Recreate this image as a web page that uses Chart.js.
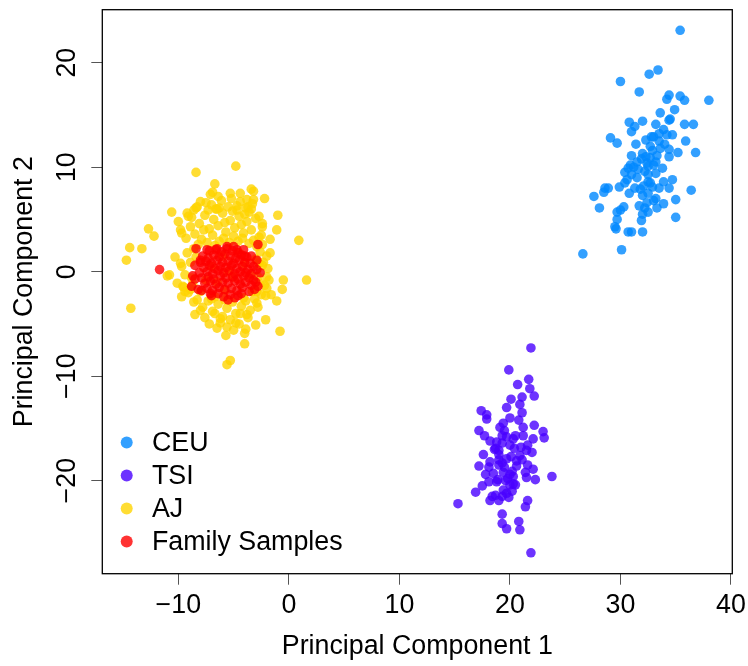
<!DOCTYPE html>
<html>
<head>
<meta charset="utf-8">
<script src="https://cdn.jsdelivr.net/npm/chart.js@4/dist/chart.umd.min.js"></script>
<style>
  html, body { margin: 0; padding: 0; background: #ffffff; }
  #wrap { width: 748px; height: 666px; }
</style>
</head>
<body>
<div id="wrap"><canvas id="pca" width="748" height="666"></canvas></div>
<script>
// PCA scatter: CEU / TSI / AJ reference panels plus family samples

const groupLabels = ['CEU', 'TSI', 'AJ', 'Family Samples'];
const xTicks = [-10, 0, 10, 20, 30, 40];
const yTicks = [-20, -10, 0, 10, 20];

const ceuPoints = [
    [35.4, 23.1], [33.4, 19.3], [32.6, 18.9], [30.0, 18.2], [31.7, 17.2], [38.0, 16.4],
    [34.4, 16.9], [34.2, 16.5], [35.4, 16.8], [35.8, 16.4], [34.9, 15.5], [33.6, 15.2],
    [34.5, 14.6], [34.4, 14.5], [30.8, 14.3], [31.3, 13.9], [32.0, 14.4], [33.2, 14.1],
    [35.8, 14.1], [36.6, 14.1], [31.0, 13.4], [33.9, 13.6], [34.2, 13.1], [33.5, 13.2],
    [34.7, 13.1], [32.8, 12.9], [33.0, 12.9], [29.1, 12.8], [29.7, 12.3], [33.5, 12.5],
    [35.9, 12.5], [32.7, 12.0], [34.4, 11.7], [35.2, 11.4], [36.8, 11.4], [34.4, 11.0],
    [31.0, 11.1], [32.0, 11.3], [32.3, 11.0], [32.7, 10.9], [33.3, 11.1], [31.5, 10.5],
    [30.9, 10.2], [32.4, 10.4], [33.2, 10.5], [32.5, 10.1], [33.8, 9.9], [33.2, 9.4],
    [30.4, 9.5], [31.0, 9.3], [32.5, 9.3], [30.7, 9.9], [32.5, 8.6], [32.7, 8.5],
    [33.9, 8.6], [34.7, 8.8], [34.4, 8.0], [29.9, 8.1], [30.4, 8.5], [28.6, 8.0],
    [28.9, 8.0], [28.5, 7.6], [31.3, 8.0], [30.8, 7.5], [32.1, 8.2], [32.9, 8.1],
    [32.5, 7.5], [32.0, 7.3], [33.5, 8.0], [27.6, 7.2], [36.4, 7.8], [35.0, 6.9],
    [33.2, 7.0], [32.4, 6.6], [31.7, 6.3], [33.9, 6.5], [28.1, 6.1], [30.3, 6.2],
    [30.0, 5.9], [29.7, 5.7], [32.5, 5.7], [32.0, 5.5], [32.2, 6.1], [33.3, 6.1],
    [29.7, 5.0], [29.5, 4.3], [29.6, 4.1], [31.9, 4.9], [35.0, 5.2], [30.7, 3.8],
    [31.0, 3.8], [32.0, 3.8], [30.1, 2.1], [26.6, 1.7], [31.6, 9.8], [32.9, 11.6],
    [31.4, 12.2], [33.0, 10.2], [31.9, 10.8], [32.2, 9.6], [31.2, 10.0], [33.6, 11.8],
    [30.6, 8.8], [31.8, 7.9], [33.0, 6.8], [34.0, 12.2], [32.3, 12.6], [31.5, 9.0]
];

const tsiPoints = [
    [21.9, -7.3], [19.9, -9.4], [21.7, -10.3], [20.7, -10.8], [21.8, -11.2], [22.2, -11.9],
    [21.1, -12.0], [20.9, -12.7], [20.1, -12.2], [19.7, -13.0], [17.4, -13.3], [17.9, -13.7],
    [17.9, -14.1], [21.1, -13.5], [20.8, -14.2], [19.4, -14.5], [19.1, -14.9], [21.2, -14.9],
    [22.2, -14.7], [17.2, -15.2], [17.7, -15.7], [23.0, -15.3], [23.1, -15.9], [19.3, -15.7],
    [19.7, -15.8], [20.5, -15.7], [21.2, -15.7], [22.1, -16.0], [18.8, -16.3], [19.3, -16.4],
    [20.0, -16.6], [21.6, -16.6], [18.7, -16.9], [20.4, -16.9], [19.0, -17.1], [21.5, -17.1],
    [22.0, -17.3], [17.6, -17.5], [20.1, -17.7], [20.9, -17.6], [19.7, -17.9], [19.0, -18.0],
    [18.2, -18.2], [20.6, -18.1], [21.1, -18.0], [17.2, -18.6], [18.1, -18.7], [19.0, -18.5],
    [19.5, -18.7], [21.6, -18.5], [22.1, -18.9], [17.8, -19.4], [18.5, -19.3], [19.4, -19.2],
    [20.0, -19.4], [20.2, -19.1], [23.8, -19.6], [22.3, -19.9], [21.5, -19.7], [18.1, -20.1],
    [18.8, -20.1], [19.6, -20.0], [20.3, -19.6], [20.3, -20.3], [17.5, -20.5], [20.0, -20.4],
    [20.5, -20.4], [16.9, -21.1], [19.4, -20.9], [19.7, -21.2], [18.7, -21.4], [18.4, -21.5],
    [19.3, -21.5], [19.9, -21.6], [18.2, -21.9], [19.0, -21.9], [21.6, -21.9], [21.4, -22.5],
    [15.3, -22.2], [19.3, -23.2], [20.8, -23.9], [19.3, -24.1], [19.7, -24.6], [20.9, -24.7],
    [21.9, -26.9], [19.5, -15.2], [20.3, -16.0], [19.0, -17.5], [20.6, -18.6], [19.8, -19.8],
    [18.6, -17.0], [21.0, -16.8], [20.2, -21.0], [18.9, -19.9], [21.4, -19.2], [19.3, -18.3],
    [20.0, -14.0], [18.2, -16.2]
];

const ajPoints = [
    [-4.8, 10.1], [-8.4, 9.5], [-6.7, 8.4], [-3.4, 7.9], [-3.2, 7.7], [-7.1, 7.4],
    [-6.9, 7.6], [-6.4, 7.2], [-5.3, 7.5], [-4.4, 7.5], [-2.2, 7.0], [-8.0, 6.7],
    [-7.5, 6.6], [-8.3, 6.2], [-8.6, 5.9], [-6.5, 6.0], [-6.3, 6.1], [-4.4, 6.7],
    [-3.8, 6.9], [-3.2, 6.9], [-4.7, 5.9], [-3.7, 6.2], [-3.4, 6.0], [-10.6, 5.7],
    [-1.0, 5.4], [-2.7, 5.3], [-9.2, 5.6], [-9.1, 5.3], [-10.0, 4.8], [-12.7, 4.1],
    [-12.2, 3.4], [-1.1, 4.0], [-9.7, 3.7], [-9.8, 4.0], [-2.4, 4.3], [-2.5, 3.5],
    [-1.7, 3.1], [0.9, 3.0], [-14.4, 2.3], [-13.3, 2.2], [-14.7, 1.1], [-1.7, 1.8],
    [-10.3, 1.4], [-9.8, 0.8], [-10.8, -0.3], [-2.0, -0.5], [-0.5, -0.8], [1.6, -0.8],
    [-0.6, -1.7], [-1.6, -2.2], [-1.1, -2.8], [-14.3, -3.5], [-9.7, -2.4], [-9.4, -1.9],
    [-8.6, -2.9], [-8.5, -4.1], [-8.0, -3.7], [-2.9, -3.0], [-2.1, -4.6], [-3.0, -5.1],
    [-3.9, -5.5], [-5.6, -5.3], [-4.8, -4.9], [-0.8, -5.7], [-4.0, -6.9], [-5.3, -8.5],
    [-5.6, -8.9], [-6.7, -4.0], [-6.2, -4.5], [-4.4, -4.0], [-3.8, -4.1], [-11.0, -0.4],
    [-10.1, -1.1], [-9.5, -1.5], [-8.9, -1.7], [-2.0, -1.6], [-2.1, -2.3], [-2.9, -1.9],
    [-2.6, -1.1], [-2.7, 0.8], [-2.4, 0.6],
    [-8.8, 5.2], [-8.1, 4.6], [-7.6, 5.4], [-7.2, 4.1], [-6.8, 5.0], [-6.4, 4.4],
    [-6.0, 5.6], [-5.7, 3.8], [-5.3, 4.9], [-4.9, 4.2], [-4.5, 5.3], [-4.1, 3.7],
    [-3.8, 4.8], [-3.4, 4.0], [-3.0, 5.1], [-2.7, 3.3], [-8.5, 3.6], [-7.9, 3.1],
    [-7.4, 2.8], [-6.9, 3.5], [-6.3, 2.9], [-5.9, 3.2], [-5.4, 2.8], [-5.0, 3.4],
    [-4.6, 2.9], [-4.2, 3.2], [-3.6, 2.7], [-3.2, 3.0], [-8.2, 2.6], [-7.7, 4.0],
    [-6.6, 6.0], [-5.8, 4.7], [-5.1, 5.8], [-4.3, 4.5], [-3.6, 5.7], [-7.0, 6.4],
    [-6.1, 6.8], [-4.7, 6.3], [-3.9, 6.1], [-8.9, 4.3], [-9.3, 3.2], [-2.4, 4.6],
    [-2.9, 2.4], [-6.7, 2.5], [-5.5, 6.2], [-7.3, 5.9], [-4.0, 5.5], [-3.3, 6.5],
    [-8.4, 6.1], [-5.2, 7.0],
    [-9.2, 1.8], [-8.9, 0.9], [-9.4, -0.3], [-8.7, -1.2], [-9.1, -2.0], [-8.6, 2.2],
    [-9.7, 0.5], [-8.4, 1.4], [-8.8, -0.6], [-9.6, -1.4], [-2.6, 1.9], [-2.3, 0.9],
    [-2.8, -0.5], [-2.2, -1.3], [-2.5, -2.2], [-1.9, 0.3], [-3.0, 1.2], [-2.4, 2.6],
    [-1.8, -0.8], [-2.0, 1.5],
    [-8.3, -2.7], [-7.8, -3.4], [-7.3, -2.8], [-6.9, -3.8], [-6.4, -3.1], [-6.0, -4.3],
    [-5.6, -3.5], [-5.1, -2.9], [-4.8, -4.0], [-4.3, -3.3], [-3.9, -2.8], [-3.5, -3.7],
    [-3.1, -2.6], [-2.8, -3.4], [-7.6, -4.4], [-7.0, -2.6], [-6.2, -4.9], [-5.3, -4.6],
    [-4.5, -5.0], [-3.7, -4.4], [-8.0, -1.9], [-6.7, -2.4], [-5.8, -2.7], [-4.1, -2.5],
    [-3.3, -1.9], [-6.5, -5.4], [-5.0, -5.6], [-7.2, -5.0], [-4.0, -5.9], [-5.7, -6.1],
    [-7.0, 0.5], [-6.0, 1.5], [-5.0, -0.5], [-4.0, 0.8], [-6.5, -1.0], [-5.5, 0.0],
    [-4.5, 1.8], [-7.5, -0.8], [-3.5, -0.3], [-5.8, -1.8]
];

const familyPoints = [
    [-7.2, 2.0], [-6.6, 2.1], [-6.1, 1.9], [-5.6, 2.2], [-5.1, 2.0], [-4.6, 1.8], [-4.1, 2.1],
    [-7.8, 1.5], [-7.3, 1.3], [-6.8, 1.6], [-6.3, 1.4], [-5.8, 1.7], [-5.3, 1.5], [-4.8, 1.3],
    [-4.3, 1.6], [-3.8, 1.4], [-3.4, 1.5],
    [-8.0, 0.9], [-7.5, 1.0], [-7.0, 0.8], [-6.5, 1.1], [-6.0, 0.9], [-5.5, 1.0], [-5.0, 0.8],
    [-4.5, 1.1], [-4.0, 0.9], [-3.5, 0.8],
    [-7.7, 0.4], [-7.2, 0.6], [-6.7, 0.3], [-6.2, 0.5], [-5.7, 0.4], [-5.2, 0.6], [-4.7, 0.3],
    [-4.2, 0.5], [-3.7, 0.2], [-3.2, 0.5],
    [-8.1, -0.1], [-7.4, 0.0], [-6.9, -0.2], [-6.4, 0.1], [-5.9, -0.1], [-5.4, 0.1], [-4.9, -0.2],
    [-4.4, 0.0], [-3.9, -0.1], [-3.4, -0.2],
    [-7.9, -0.6], [-7.3, -0.5], [-6.8, -0.7], [-6.2, -0.4], [-5.7, -0.6], [-5.1, -0.5], [-4.6, -0.7],
    [-4.1, -0.4], [-3.6, -0.6], [-3.2, -0.8],
    [-7.6, -1.1], [-7.1, -0.9], [-6.6, -1.2], [-6.0, -1.0], [-5.5, -1.1], [-4.9, -0.9], [-4.4, -1.2],
    [-3.9, -1.0], [-3.4, -1.3],
    [-8.2, -1.7], [-7.4, -1.6], [-6.9, -1.8], [-6.3, -1.5], [-5.8, -1.7], [-5.2, -1.6], [-4.7, -1.8],
    [-4.2, -1.5], [-3.6, -1.9],
    [-7.0, -2.3], [-6.4, -2.1], [-5.9, -2.4], [-5.3, -2.2], [-4.9, -2.5], [-4.3, -2.1],
    [-11.7, 0.2], [-8.4, 2.2], [-2.8, 2.6], [-4.0, 1.5], [-2.9, 1.1], [-2.9, 0.2],
    [-2.6, -0.1], [-3.0, -1.0], [-2.8, -1.4], [-3.1, -1.7], [-4.6, -2.3], [-5.5, -2.7],
    [-8.8, -1.4], [-8.5, -0.7], [-8.7, -0.4], [-7.1, -2.1], [-7.9, -1.8], [-8.5, 0.6],
    [-8.0, 1.1], [-7.4, 2.1], [-6.5, 2.2], [-5.6, 2.4], [-5.0, 2.4], [-4.7, 2.1]
];

const groupPoints = [ceuPoints, tsiPoints, ajPoints, familyPoints];
const groupColors = [
    'rgba(0, 136, 255, 0.8)',
    'rgba(72, 0, 255, 0.8)',
    'rgba(255, 213, 0, 0.8)',
    'rgba(255, 0, 0, 0.8)'
];

const FONT = { family: '"Liberation Sans", Arial, Helvetica, sans-serif', size: 26.8 };

function fmtTick(v) {
    return v < 0 ? '\u2212' + Math.abs(v) : String(v);
}

// keep the plot box where R put it: no extra room for overhanging tick labels
function noOverhang(s) {
    s.paddingTop = 0;
    s.paddingBottom = 0;
    s.paddingLeft = 0;
    s.paddingRight = 0;
}

// R-like box around the plot region, plus the legend in the lower-left corner
const boxAndLegend = {
    id: 'boxAndLegend',
    afterDraw(chart) {
        const { ctx, chartArea: a } = chart;
        ctx.save();
        ctx.strokeStyle = '#000';
        ctx.lineWidth = 1.3;
        ctx.strokeRect(a.left, a.top, a.right - a.left, a.bottom - a.top);

        ctx.font = `${FONT.size}px ${FONT.family}`;
        ctx.textBaseline = 'middle';
        ctx.textAlign = 'left';
        chart.data.datasets.forEach((ds, i) => {
            const y = 442.5 + i * 33;
            ctx.fillStyle = ds.backgroundColor;
            ctx.beginPath();
            ctx.arc(126.7, y, 6, 0, Math.PI * 2);
            ctx.fill();
            ctx.fillStyle = '#000';
            ctx.fillText(ds.label, 152, y + 1);
        });
        ctx.restore();
    }
};

const datasets = groupLabels.map((label, i) => ({
    label,
    data: groupPoints[i].map(p => ({ x: p[0], y: p[1] })),
    backgroundColor: groupColors[i],
    borderWidth: 0,
    pointRadius: 4.8,
    pointHoverRadius: 4.8,
    order: groupLabels.length - i
}));

new Chart(document.getElementById('pca'), {
    type: 'scatter',
    data: { datasets },
    plugins: [boxAndLegend],
    options: {
        responsive: false,
        animation: false,
        devicePixelRatio: 1,
        layout: { padding: { top: 9.7, right: 15.7, bottom: 0, left: 0 } },
        plugins: {
            legend: { display: false },
            tooltip: { enabled: false }
        },
        scales: {
            x: {
                type: 'linear',
                min: -16.88,
                max: 40.12,
                afterBuildTicks: s => { s.ticks = xTicks.map(v => ({ value: v })); },
                afterFit: s => { s.height = 92.3; noOverhang(s); },
                border: { display: false },
                grid: {
                    drawOnChartArea: false,
                    drawTicks: true,
                    tickLength: 11,
                    tickColor: '#555',
                    tickWidth: 1
                },
                ticks: {
                    font: FONT,
                    color: '#000',
                    padding: 4.5,
                    maxRotation: 0,
                    autoSkip: false,
                    callback: fmtTick
                },
                title: {
                    display: true,
                    text: 'Principal Component 1',
                    font: FONT,
                    color: '#000',
                    padding: { top: 0, bottom: 3 }
                }
            },
            y: {
                type: 'linear',
                min: -28.9,
                max: 25.07,
                afterBuildTicks: s => { s.ticks = yTicks.map(v => ({ value: v })); },
                afterFit: s => { s.width = 102.3; noOverhang(s); },
                border: { display: false },
                grid: {
                    drawOnChartArea: false,
                    drawTicks: true,
                    tickLength: 11,
                    tickColor: '#555',
                    tickWidth: 1
                },
                ticks: {
                    font: FONT,
                    color: '#000',
                    padding: 0.5,
                    minRotation: 90,
                    maxRotation: 90,
                    crossAlign: 'center',
                    autoSkip: false,
                    callback: fmtTick
                },
                title: {
                    display: true,
                    text: 'Principal Component 2',
                    font: FONT,
                    color: '#000',
                    padding: { top: 9, bottom: 0 }
                }
            }
        }
    }
});
</script>
</body>
</html>
